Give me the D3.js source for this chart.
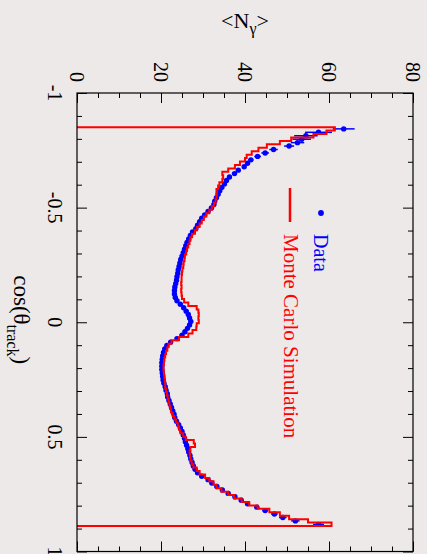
<!DOCTYPE html>
<html>
<head>
<meta charset="utf-8">
<script src="https://cdn.jsdelivr.net/npm/d3@7"></script>
<style>
  html, body { margin: 0; padding: 0; background: #ece9e8; }
  svg { display: block; }
  text { font-family: "Liberation Serif", "DejaVu Serif", serif; }
</style>
</head>
<body>
<svg id="chart" width="427" height="554"></svg>
<script>
// Mean photon multiplicity versus track polar angle (plot turned a quarter turn clockwise)

// binning in cos(theta_track)
const binStart = -0.851;
const binWidth = 0.015;

// Monte Carlo simulation, one value per bin
const mcValues = [
  61.4, 59.4, 56.3, 51.0, 48.3, 45.2, 43.2, 41.6, 40.4, 40.0,
  38.8, 37.6, 36.0, 34.6, 34.8, 34.6, 33.9, 33.6, 33.2, 33.3,
  33.2, 33.0, 32.6, 32.1, 31.5, 30.8, 30.2, 29.7, 29.2, 28.6,
  28.1, 27.4, 27.0, 26.8, 26.5, 26.2, 26.0, 25.7, 25.6, 25.4,
  25.3, 25.1, 25.0, 24.9, 24.9, 24.8, 24.9, 24.8, 24.9, 25.0,
  25.5, 26.5, 28.5, 28.9, 29.0, 28.9, 29.0, 28.5, 28.4, 27.5,
  26.5, 24.3, 22.5, 21.8, 21.5, 21.2, 21.0, 20.8, 20.7, 20.6,
  20.6, 20.7, 20.8, 20.9, 21.0, 21.0, 21.2, 21.4, 21.6, 21.8,
  22.0, 22.2, 22.4, 22.8, 23.2, 23.6, 24.0, 24.3, 24.6, 25.3,
  25.9, 27.8, 28.1, 27.0, 26.8, 26.9, 27.0, 27.3, 27.7, 28.5,
  29.2, 30.5, 31.5, 32.5, 33.2, 34.4, 36.0, 37.4, 39.2, 41.0,
  43.0, 45.8, 48.3, 50.5, 55.0, 60.6
];

// measured data, one point per bin centre
const dataValues = [
  63.5, 57.5, 54.5, 53.5, 52.5, 50.5, 46.8, 44.8, 43.0, 41.4,
  40.6, 39.8, 38.4, 37.5, 36.3, 35.6, 35.1, 34.5, 34.0, 33.6,
  33.2, 32.8, 32.6, 32.0, 31.2, 30.4, 29.7, 29.2, 28.7, 28.3,
  27.5, 27.0, 26.6, 26.2, 25.9, 25.6, 25.3, 25.0, 24.7, 24.5,
  24.3, 24.1, 24.0, 23.8, 23.7, 23.5, 23.3, 23.2, 23.2, 23.4,
  23.8, 24.6, 25.4, 26.0, 26.5, 26.8, 27.1, 26.8, 26.3, 25.7,
  25.0, 23.8, 22.3, 21.4, 20.9, 20.6, 20.4, 20.3, 20.2, 20.2,
  20.2, 20.3, 20.4, 20.5, 20.7, 21.0, 21.2, 21.5, 21.6, 21.9,
  22.2, 22.5, 22.8, 23.1, 23.3, 23.7, 24.2, 24.6, 25.0, 25.3,
  25.6, 25.8, 26.1, 26.4, 26.6, 26.9, 27.1, 27.4, 27.7, 28.1,
  28.7, 29.7, 31.2, 32.1, 33.3, 34.6, 36.0, 37.6, 39.1, 40.6,
  42.8, 44.8, 47.0, 49.0, 52.0, 57.5
];

// statistical uncertainty of the data points
const dataErrors = [
  2.6, 3.2, 2.8, 2.2, 1.6, 1.2, 1.0, 0.9, 0.8, 0.6,
  0.6, 0.5, 0.5, 0.5, 0.5, 0.5, 0.5, 0.5, 0.5, 0.5,
  0.5, 0.5, 0.5, 0.5, 0.5, 0.5, 0.5, 0.5, 0.5, 0.5,
  0.5, 0.5, 0.5, 0.5, 0.5, 0.5, 0.5, 0.5, 0.5, 0.5,
  0.5, 0.5, 0.5, 0.5, 0.5, 0.5, 0.5, 0.5, 0.5, 0.5,
  0.5, 0.5, 0.5, 0.5, 0.5, 0.5, 0.5, 0.5, 0.5, 0.5,
  0.5, 0.5, 0.5, 0.5, 0.5, 0.5, 0.5, 0.5, 0.5, 0.5,
  0.5, 0.5, 0.5, 0.5, 0.5, 0.5, 0.5, 0.5, 0.5, 0.5,
  0.5, 0.5, 0.5, 0.5, 0.5, 0.5, 0.5, 0.5, 0.5, 0.5,
  0.5, 0.5, 0.5, 0.5, 0.5, 0.5, 0.5, 0.5, 0.5, 0.5,
  0.5, 0.5, 0.5, 0.5, 0.5, 0.5, 0.5, 0.5, 0.5, 0.6,
  0.6, 0.7, 0.8, 0.9, 1.0, 1.3
];

// axis tick labels
const cosTicks = [-1, -0.5, 0, 0.5, 1];
const cosTickLabels = ["-1", "-0.5", "0", "0.5", "1"];
const nTicks = [0, 20, 40, 60, 80];
const nTickLabels = ["0", "20", "40", "60", "80"];

// legend entries
const legendLabels = ["Data", "Monte Carlo Simulation"];

const RED = "#ff0000", BLUE = "#0000ff";
const svg = d3.select("#chart");
const frame = { left: 77, right: 413, top: 93, bottom: 551.5 };

// cos(theta) runs down the page, <N_gamma> runs across
const yCos = d3.scaleLinear().domain([-1, 1]).range([frame.top, frame.bottom]);
const xN = d3.scaleLinear().domain([0, 80]).range([frame.left, frame.right]);

svg.append("rect").attr("width", 427).attr("height", 554).attr("fill", "#ece9e8");

const plot = svg.append("g");

// data points with error bars
const centres = dataValues.map((v, i) => binStart + binWidth * (i + 0.5));
const pts = plot.append("g");
pts.selectAll("line.err").data(dataValues).join("line")
  .attr("class", "err")
  .attr("x1", (v, i) => xN(v - dataErrors[i]))
  .attr("x2", (v, i) => xN(v + dataErrors[i]))
  .attr("y1", (v, i) => yCos(centres[i]))
  .attr("y2", (v, i) => yCos(centres[i]))
  .attr("stroke", BLUE).attr("stroke-width", 1.5);
pts.selectAll("circle").data(dataValues).join("circle")
  .attr("cx", v => xN(v))
  .attr("cy", (v, i) => yCos(centres[i]))
  .attr("r", 2.7)
  .attr("fill", BLUE);

// Monte Carlo histogram as a step outline
const steps = [[0, binStart]];
mcValues.forEach((v, i) => {
  const lo = binStart + binWidth * i, hi = lo + binWidth;
  steps.push([v, lo], [v, hi]);
});
steps.push([0, binStart + binWidth * mcValues.length]);
const stepLine = d3.line().x(d => xN(d[0])).y(d => yCos(d[1]));
plot.append("path")
  .attr("d", stepLine(steps))
  .attr("fill", "none")
  .attr("stroke", RED)
  .attr("stroke-width", 2)
  .attr("stroke-linejoin", "miter");

// frame and ticks
const nMinor = d3.range(0, 80.01, 5);
const cosMinor = d3.range(-1, 1.001, 0.1);
function tickLen(major) { return major ? 10 : 5; }

// top and bottom edges carry the <N_gamma> scale
const gTop = svg.append("g").attr("transform", `translate(0,${frame.top})`)
  .call(d3.axisBottom(xN).tickValues(nMinor).tickSizeOuter(0).tickFormat(""));
gTop.selectAll(".tick line").attr("y2", d => tickLen(d % 20 === 0));
const gBottom = svg.append("g").attr("transform", `translate(0,${frame.bottom})`)
  .call(d3.axisTop(xN).tickValues(nMinor).tickSizeOuter(0).tickFormat(""));
gBottom.selectAll(".tick line").attr("y2", d => -tickLen(d % 20 === 0));

// left and right edges carry the cos(theta) scale
const isCosMajor = d => Math.abs(d * 2 - Math.round(d * 2)) < 1e-6;
const gLeft = svg.append("g").attr("transform", `translate(${frame.left},0)`)
  .call(d3.axisRight(yCos).tickValues(cosMinor).tickSizeOuter(0).tickFormat(""));
gLeft.selectAll(".tick line").attr("x2", d => tickLen(isCosMajor(d)));
const gRight = svg.append("g").attr("transform", `translate(${frame.right},0)`)
  .call(d3.axisLeft(yCos).tickValues(cosMinor).tickSizeOuter(0).tickFormat(""));
gRight.selectAll(".tick line").attr("x2", d => -tickLen(isCosMajor(d)));

[gTop, gBottom, gLeft, gRight].forEach(g => {
  g.select(".domain").remove();
  g.selectAll(".tick line").attr("stroke", "#000").attr("stroke-width", 1);
});

svg.append("rect")
  .attr("x", frame.left).attr("y", frame.top)
  .attr("width", frame.right - frame.left).attr("height", frame.bottom - frame.top)
  .attr("fill", "none").attr("stroke", "#000").attr("stroke-width", 1.2);

// tick labels, written sideways
svg.append("g").selectAll("text").data(nTicks).join("text")
  .attr("transform", d => `translate(${xN(d)},82) rotate(90)`)
  .attr("text-anchor", "end")
  .attr("dy", "0.35em")
  .attr("font-size", 20)
  .text((d, i) => nTickLabels[i]);

svg.append("g").selectAll("text").data(cosTicks).join("text")
  .attr("transform", d => `translate(48,${yCos(d)}) rotate(90)`)
  .attr("text-anchor", "middle")
  .attr("font-size", 20)
  .text((d, i) => cosTickLabels[i]);

// axis titles
const nTitle = svg.append("text")
  .attr("x", (frame.left + frame.right) / 2).attr("y", 28)
  .attr("text-anchor", "middle").attr("font-size", 22);
nTitle.append("tspan").text("<N");
nTitle.append("tspan").attr("dy", 6).attr("font-size", 16).text("γ");
nTitle.append("tspan").attr("dy", -6).text(">");

const cosTitle = svg.append("text")
  .attr("transform", `translate(14,${(frame.top + frame.bottom) / 2 - 47}) rotate(90)`)
  .attr("font-size", 23);
cosTitle.append("tspan").text("cos(θ");
cosTitle.append("tspan").attr("dy", 7).attr("font-size", 16).text("track");
cosTitle.append("tspan").attr("dy", -7).text(")");

// legend
const legend = svg.append("g");
legend.append("circle").attr("cx", 321).attr("cy", 213).attr("r", 2.9).attr("fill", BLUE);
legend.append("line").attr("x1", 290).attr("x2", 290).attr("y1", 188).attr("y2", 222)
  .attr("stroke", RED).attr("stroke-width", 2.5);
legend.append("text")
  .attr("transform", "translate(321,234) rotate(90)")
  .attr("dy", "0.35em").attr("font-size", 20).attr("fill", BLUE)
  .text(legendLabels[0]);
legend.append("text")
  .attr("transform", "translate(291,234) rotate(90)")
  .attr("dy", "0.35em").attr("font-size", 21).attr("fill", RED)
  .text(legendLabels[1]);
</script>
</body>
</html>
